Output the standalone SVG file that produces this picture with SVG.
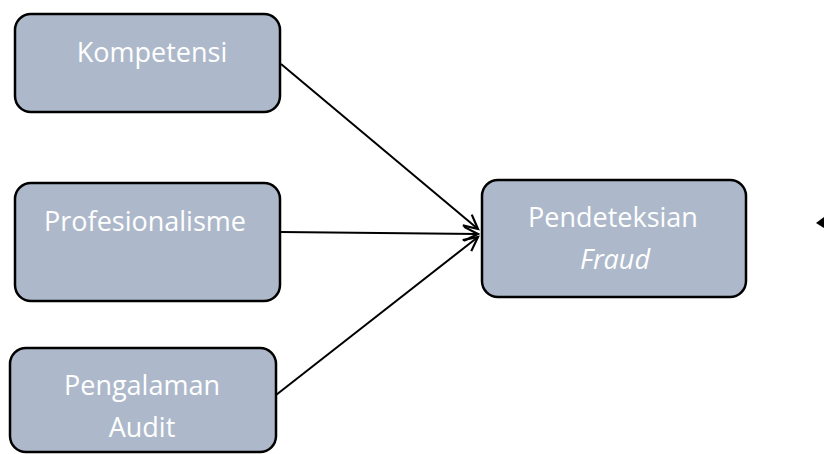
<svg xmlns="http://www.w3.org/2000/svg" width="824" height="454" viewBox="0 0 824 454">
<style>
.box{fill:#adb9ca;stroke:#000;stroke-width:2.5}
.t{font-family:"Open Sans","Liberation Sans",sans-serif;font-size:27px;fill:#fff;text-anchor:middle}
.e{stroke:#000;stroke-width:2;fill:none}
</style>
<defs>
<marker id="arr" markerUnits="userSpaceOnUse" markerWidth="20" markerHeight="20" refX="16" refY="8" orient="auto" viewBox="0 0 20 16">
<path d="M2,1 L16,8 L2,15" fill="none" stroke="#000" stroke-width="2.2"/>
</marker>
</defs>
<rect width="824" height="454" fill="#fff"/>
<g id="edges">
<line class="e" x1="281" y1="64" x2="478" y2="229" marker-end="url(#arr)"/>
<line class="e" x1="281" y1="232" x2="478" y2="234" marker-end="url(#arr)"/>
<line class="e" x1="276" y1="395" x2="478" y2="237" marker-end="url(#arr)"/>
</g>
<g id="kompetensi">
<rect class="box" x="15" y="14" width="265" height="98" rx="16"/>
<text class="t" x="152" y="62">Kompetensi</text>
</g>
<g id="profesionalisme">
<rect class="box" x="15" y="183" width="265" height="118" rx="16"/>
<text class="t" x="145" y="231">Profesionalisme</text>
</g>
<g id="pengalaman">
<rect class="box" x="10" y="348" width="266" height="104" rx="16"/>
<text class="t" x="142" y="395">Pengalaman</text>
<text class="t" x="142" y="437">Audit</text>
</g>
<g id="pendeteksian">
<rect class="box" x="482" y="180" width="264" height="117" rx="16"/>
<text class="t" x="613" y="227">Pendeteksian</text>
<text class="t" x="615" y="269" font-style="italic">Fraud</text>
</g>
<polygon points="816,223 824,217 824,228" fill="#000"/>
</svg>
